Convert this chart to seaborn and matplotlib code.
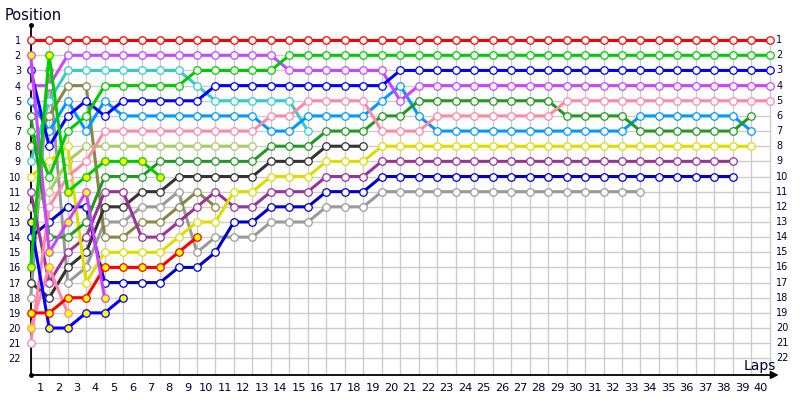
import seaborn as sns
import numpy as np
import matplotlib.pyplot as plt

# running position of every car, lap by lap, starting from the grid (lap 0)
red = [1, 1, 1, 1, 1, 1, 1, 1, 1, 1,
       1, 1, 1, 1, 1, 1, 1, 1, 1, 1,
       1, 1, 1, 1, 1, 1, 1, 1, 1, 1,
       1, 1, 1, 1, 1, 1, 1, 1, 1, 1, 1]
green = [7, 10, 7, 6, 4, 4, 4, 4, 4, 3,
         3, 3, 3, 3, 2, 2, 2, 2, 2, 2,
         2, 2, 2, 2, 2, 2, 2, 2, 2, 2,
         2, 2, 2, 2, 2, 2, 2, 2, 2, 2, 2]
blue = [3, 8, 6, 5, 6, 5, 5, 5, 5, 5,
        4, 4, 4, 4, 4, 4, 4, 4, 4, 4,
        3, 3, 3, 3, 3, 3, 3, 3, 3, 3,
        3, 3, 3, 3, 3, 3, 3, 3, 3, 3, 3]
violet = [4, 4, 2, 2, 2, 2, 2, 2, 2, 2,
          2, 2, 2, 2, 3, 3, 3, 3, 3, 3,
          5, 4, 4, 4, 4, 4, 4, 4, 4, 4,
          4, 4, 4, 4, 4, 4, 4, 4, 4, 4, 4]
pink = [21, 12, 10, 9, 7, 7, 7, 7, 7, 7,
        7, 7, 7, 6, 6, 5, 5, 5, 5, 7,
        7, 7, 6, 6, 6, 6, 6, 6, 6, 5,
        5, 5, 5, 5, 5, 5, 5, 5, 5, 5, 5]
dkgreen = [6, 14, 14, 13, 10, 10, 10, 9, 9, 9,
           9, 9, 9, 8, 8, 8, 7, 7, 7, 6,
           6, 5, 5, 5, 5, 5, 5, 5, 5, 6,
           6, 6, 6, 7, 7, 7, 7, 7, 7, 6]
ltblue = [5, 7, 5, 7, 5, 6, 6, 6, 6, 6,
          6, 6, 6, 7, 7, 6, 6, 6, 6, 5,
          4, 6, 7, 7, 7, 7, 7, 7, 7, 7,
          7, 7, 7, 6, 6, 6, 6, 6, 6, 7]
yellow = [10, 9, 8, 17, 15, 15, 15, 15, 14, 13,
          13, 11, 11, 10, 10, 10, 9, 9, 9, 8,
          8, 8, 8, 8, 8, 8, 8, 8, 8, 8,
          8, 8, 8, 8, 8, 8, 8, 8, 8, 8]
purple = [11, 17, 15, 14, 11, 11, 14, 14, 13, 12,
          11, 12, 12, 11, 11, 11, 10, 10, 10, 9,
          9, 9, 9, 9, 9, 9, 9, 9, 9, 9,
          9, 9, 9, 9, 9, 9, 9, 9, 9]
navy = [14, 13, 12, 12, 17, 17, 17, 17, 16, 16,
        15, 13, 13, 12, 12, 12, 11, 11, 11, 10,
        10, 10, 10, 10, 10, 10, 10, 10, 10, 10,
        10, 10, 10, 10, 10, 10, 10, 10, 10]
gray = [18, 3, 17, 16, 13, 13, 12, 12, 11, 15,
        14, 14, 14, 13, 13, 13, 12, 12, 12, 11,
        11, 11, 11, 11, 11, 11, 11, 11, 11, 11,
        11, 11, 11, 11]
black = [17, 18, 16, 15, 12, 12, 11, 11, 10, 10,
         10, 10, 10, 9, 9, 9, 8, 8, 8]
cyan = [9, 5, 3, 3, 3, 3, 3, 3, 3, 4,
        5, 5, 5, 5, 5, 7]
ltgreen = [12, 11, 9, 8, 8, 8, 8, 8, 8, 8,
           8, 8, 8]
olive = [8, 6, 4, 4, 14, 14, 13, 13, 12, 11, 12]
red2 = [19, 19, 18, 18, 16, 16, 16, 16, 15, 14]
green2 = [16, 2, 11, 10, 9, 9, 9, 10]
blue2 = [13, 20, 20, 19, 19, 18]
violet2 = [2, 15, 13, 11, 18]
pink2 = [20, 16, 19]

lap_labels = list(range(1, 41))
pos_labels = list(range(1, 23))

# (positions, line colour, marker face), drawn back to front
cars = [
    (gray, "#9a9a9a", "white"),
    (olive, "#888844", "white"),
    (black, "#333333", "white"),
    (ltgreen, "#aacc66", "white"),
    (cyan, "#33cccc", "white"),
    (navy, "#0000cc", "white"),
    (purple, "#993399", "white"),
    (yellow, "#dddd00", "white"),
    (ltblue, "#0099ff", "white"),
    (dkgreen, "#229922", "white"),
    (pink, "#ff88aa", "white"),
    (violet, "#cc44ff", "white"),
    (blue, "#0000ff", "white"),
    (green, "#00cc00", "white"),
    (red, "#ff0000", "white"),
    (pink2, "#ff88aa", "#ffff00"),
    (blue2, "#0000ff", "#ffff00"),
    (red2, "#ff0000", "#ffff00"),
    (violet2, "#cc44ff", "#ffff00"),
    (green2, "#00cc00", "#ffff00"),
]

sns.set_theme(style="white")
plt.rcParams['font.family'] = ['DejaVu Sans']

fig = plt.figure(figsize=(8, 4), dpi=100)
ax = fig.add_axes([30.7 / 800, 25 / 400, 748 / 800, 350 / 400])

# light grid between the laps/positions
ax.vlines(range(0, 41), 1, 23.1, color="#cccccc", lw=1, zorder=0)
ax.hlines(pos_labels, 0, 40, color="#cccccc", lw=1, zorder=0)

for pos, col, face in cars:
    sns.lineplot(x=list(range(len(pos))), y=pos, ax=ax, color=col,
                 lw=2.2, marker="o", ms=5.4, mfc=face, mec=col, mew=0.9,
                 errorbar=None, legend=False, clip_on=False, zorder=3)

ax.set_xlim(0, 40.48)
ax.set_ylim(23.1, 0)
for s in ax.spines.values():
    s.set_visible(False)

# axes with arrow ends
ax.plot([0, 0], [23.1, 0], color="black", lw=1.3, clip_on=False, zorder=1)
ax.plot([0], [0], "o", color="black", ms=2.5, clip_on=False, zorder=1)
ax.plot([0], [23.1], "o", color="black", ms=2.5, clip_on=False, zorder=1)
ax.annotate("", xy=(40.48, 23.1), xytext=(0, 23.1), annotation_clip=False,
            arrowprops=dict(arrowstyle="-|>", color="black", lw=1.3,
                            mutation_scale=11, shrinkA=0, shrinkB=0))

ax.set_xticks(np.array(lap_labels) - 0.5)
ax.set_xticklabels([str(v) for v in lap_labels])
ax.set_yticks(pos_labels)
ax.set_yticklabels([str(v) for v in pos_labels])
ax.tick_params(axis="x", length=0, pad=6, labelsize=8.2, colors="#000033")
ax.tick_params(axis="y", length=0, pad=7, labelsize=7, colors="#000033")
for p in pos_labels:
    ax.text(40.35, p, str(p), ha="left", va="center", fontsize=7,
            color="#000033")
ax.set_xlabel("")
ax.set_ylabel("")

fig.text(5 / 800, 1 - 15 / 400, "Position", ha="left", va="center",
         fontsize=10.5, color="#000033")
fig.text(776 / 800, 1 - 370 / 400, "Laps", ha="right", va="baseline",
         fontsize=10, color="#000033")

fig.savefig("out.png", dpi=100, facecolor="white")
